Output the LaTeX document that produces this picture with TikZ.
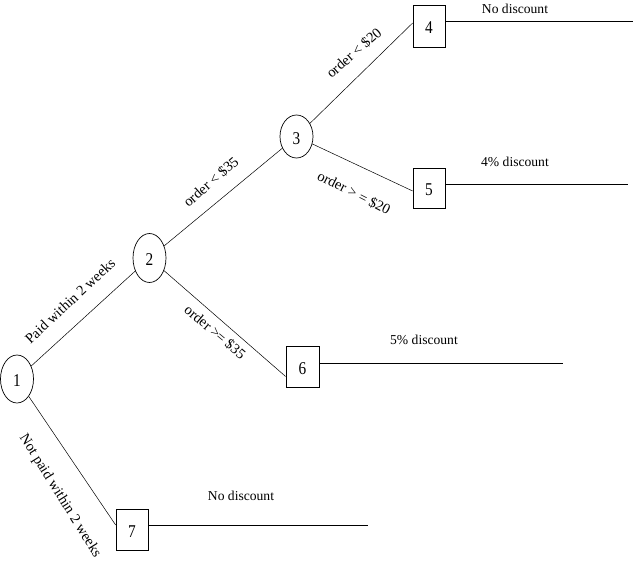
\documentclass[tikz,border=0pt]{standalone}
\usepackage{fontspec}
\setmainfont{Liberation Serif}
\usetikzlibrary{shapes.geometric}
\begin{document}
\begin{tikzpicture}[x=1pt,y=-1pt,
  numfont/.style={font=\fontsize{18}{18}\selectfont, text height=15pt, text depth=0pt},
  chance/.style={draw, line width=0.7pt, ellipse, minimum width=33pt, minimum height=48pt, inner sep=0pt, numfont},
  endbox/.style={draw, line width=0.7pt, rectangle, minimum width=32pt, minimum height=41pt, inner sep=0pt, numfont},
  lbl/.style={font=\fontsize{14.5}{14.5}\selectfont, inner sep=0pt},
  outlbl/.style={font=\fontsize{13.6}{13.6}\selectfont, inner sep=0pt},
  conn/.style={line width=0.5pt},
  payoff/.style={line width=0.8pt}]
\useasboundingbox (0,0) rectangle (633,573);

\node[chance] (n1) at (17,379) {\scalebox{0.85}[1]{1}};
\node[chance, minimum height=49pt] (n2) at (149.5,258) {\scalebox{0.85}[1]{2}};
\node[chance, minimum height=43pt] (n3) at (296.5,136.5) {\scalebox{0.85}[1]{3}};
\node[endbox, minimum height=42pt] (n4) at (429,26) {\scalebox{0.85}[1]{4}};
\node[endbox, minimum height=40pt] (n5) at (429,188) {\scalebox{0.85}[1]{5}};
\node[endbox, minimum width=33pt] (n6) at (302.5,366.5) {\scalebox{0.85}[1]{6}};
\node[endbox] (n7) at (132,529.5) {\scalebox{0.85}[1]{7}};

\draw[conn] (n1) -- (n2);
\draw[conn] (n2) -- (n3);
\draw[conn] (n3) -- ([yshift=3pt]n4.west);
\draw[conn] (n3) -- ([yshift=-3pt]n5.west);
\draw[conn] (n2) -- ([yshift=-10pt]n6.west);
\draw[conn] (n1) -- ([yshift=4.5pt]n7.west);

\coordinate (e4) at (633,21);
\coordinate (e5) at (628,184);
\coordinate (e6) at (563,363);
\coordinate (e7) at (368,525);
\draw[payoff] (n4.east |- e4) -- (e4);
\draw[payoff] (n5.east |- e5) -- (e5);
\draw[payoff] (n6.east |- e6) -- (e6);
\draw[payoff] (n7.east |- e7) -- (e7);

\node[outlbl] (t4) at (515,9) {No discount};
\node[outlbl] (t5) at (515,162) {4\% discount};
\node[outlbl] (t6) at (424,340) {5\% discount};
\node[outlbl] (t7) at (241,496) {No discount};

\node[lbl, rotate=43] (l12) at (70,301) {Paid within 2 weeks};
\node[lbl, rotate=-58] (l17) at (60,496) {Not paid within 2 weeks};
\node[lbl, rotate=41] (l23) at (211,182) {order < \$35};
\node[lbl, rotate=41] (l34) at (354,53) {order < \$20};
\node[lbl, rotate=-27] (l35) at (354,193) {order > = \$20};
\node[lbl, rotate=-40] (l26) at (215,332) {order >\kern-1pt= \$35};
\end{tikzpicture}
\end{document}
